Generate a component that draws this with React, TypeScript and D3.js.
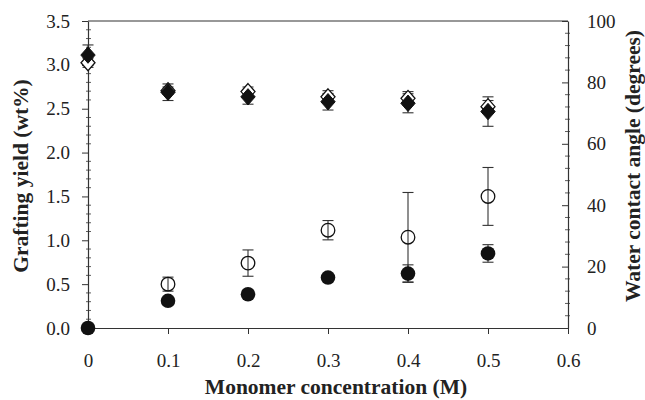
import React, { useEffect, useRef } from "react";
import * as d3 from "d3";

// concentrations (M)
const conc = [0, 0.1, 0.2, 0.3, 0.4, 0.5];
// grafting yield (wt%) — left axis
const yieldFilled = [0, 0.31, 0.385, 0.575, 0.62, 0.85];
const yieldFilledErr = [0, 0.02, 0.02, 0.02, 0.1, 0.1];
const yieldOpen = [null, 0.5, 0.74, 1.115, 1.035, 1.5];
const yieldOpenErr = [0, 0.08, 0.15, 0.11, 0.51, 0.33];
// water contact angle (degrees) — right axis
const angleFilled = [88.9, 76.8, 75.3, 73.7, 73.2, 70.5];
const angleFilledErr = [3.3, 2.7, 2.4, 2.7, 3.1, 4.8];
const angleOpen = [86.4, 77.3, 77.0, 75.3, 74.8, 72.1];
const angleOpenErr = [1.5, 1.2, 1.5, 2.0, 2.2, 2.0];

const xTicks = [0, 0.1, 0.2, 0.3, 0.4, 0.5, 0.6];
const yLeftTicks = [0, 0.5, 1.0, 1.5, 2.0, 2.5, 3.0, 3.5];
const yRightTicks = [0, 20, 40, 60, 80, 100];

const W = 645, H = 400;
const L = 88, R = 568, T = 21, B = 328;
const AX = "#333";
const FONT = "Liberation Serif";

export default function App() {
  const gx = useRef<SVGGElement>(null);
  const gl = useRef<SVGGElement>(null);
  const gr = useRef<SVGGElement>(null);

  const x = d3.scaleLinear().domain([0, 0.6]).range([L, R]);
  const yL = d3.scaleLinear().domain([0, 3.5]).range([B, T]);
  const yR = d3.scaleLinear().domain([0, 100]).range([B, T]);

  useEffect(() => {
    const style = (g: any) => {
      g.attr("font-family", null).attr("font-size", null);
      g.selectAll("path.domain").attr("stroke", AX).attr("stroke-width", 1.2);
      g.selectAll(".tick line").attr("stroke", AX).attr("stroke-width", 1);
      g.selectAll("text").attr("font-size", 19).attr("fill", "#222");
    };
    const sx = d3.select(gx.current!);
    sx.call(
      d3.axisBottom(x).tickValues(xTicks).tickSizeInner(6).tickSizeOuter(0).tickPadding(20)
        .tickFormat((d: any) => (d === 0 ? "0" : d3.format(".1f")(d)))
    );
    style(sx);
    const sl = d3.select(gl.current!);
    sl.call(d3.axisLeft(yL).tickValues(yLeftTicks).tickSizeInner(6).tickSizeOuter(0).tickPadding(12)
      .tickFormat(d3.format(".1f") as any));
    style(sl);
    const sr = d3.select(gr.current!);
    sr.call(d3.axisRight(yR).tickValues(yRightTicks).tickSizeInner(-6).tickSizeOuter(0).tickPadding(19));
    style(sr);
  }, []);

  const minorL = d3.range(0, 3.5001, 0.1).filter((v) => Math.abs(v * 2 - Math.round(v * 2)) > 1e-6);
  const minorR = d3.range(0, 100.001, 4).filter((v) => v % 20 !== 0);

  const diamond = (cx: number, cy: number, hw: number, hh: number) =>
    `M${cx},${cy - hh}L${cx + hw},${cy}L${cx},${cy + hh}L${cx - hw},${cy}Z`;

  const errBar = (cx: number, y0: number, y1: number, key: string) => (
    <g key={key} stroke="#333" strokeWidth={1.1}>
      <line x1={cx} x2={cx} y1={y0} y2={y1} />
      <line x1={cx - 5.5} x2={cx + 5.5} y1={y0} y2={y0} />
      <line x1={cx - 5.5} x2={cx + 5.5} y1={y1} y2={y1} />
    </g>
  );

  return (
    <svg width={W} height={H} style={{ position: "absolute", left: 0, top: 0, background: "#fff", fontFamily: FONT }}>
      <rect width={W} height={H} fill="#fff" />
      {/* top border */}
      <line x1={L} x2={R} y1={T} y2={T} stroke={AX} strokeWidth={1.2} />
      <g ref={gx} transform={`translate(0,${B})`} />
      <g ref={gl} transform={`translate(${L},0)`} />
      <g ref={gr} transform={`translate(${R},0)`} />
      {/* minor ticks */}
      {minorL.map((v, i) => (
        <line key={"ml" + i} x1={L - 2} x2={L + 3} y1={yL(v)} y2={yL(v)} stroke={AX} strokeWidth={0.8} />
      ))}
      {minorR.map((v, i) => (
        <line key={"mr" + i} x1={R - 3} x2={R + 2} y1={yR(v)} y2={yR(v)} stroke={AX} strokeWidth={0.8} />
      ))}

      {/* error bars */}
      {conc.map((c, i) => errBar(x(c), yR(angleFilled[i] + angleFilledErr[i]), yR(angleFilled[i] - angleFilledErr[i]), "ef" + i))}
      {conc.map((c, i) => errBar(x(c), yR(angleOpen[i] + angleOpenErr[i]), yR(angleOpen[i] - angleOpenErr[i]), "eo" + i))}
      {conc.map((c, i) =>
        yieldOpen[i] == null ? null : errBar(x(c), yL(yieldOpen[i]! + yieldOpenErr[i]), yL(yieldOpen[i]! - yieldOpenErr[i]), "yo" + i)
      )}
      {conc.map((c, i) =>
        yieldFilledErr[i] > 0 ? errBar(x(c), yL(yieldFilled[i] + yieldFilledErr[i]), yL(yieldFilled[i] - yieldFilledErr[i]), "yf" + i) : null
      )}

      {/* open diamonds */}
      {conc.map((c, i) => (
        <path key={"od" + i} d={diamond(x(c), yR(angleOpen[i]), 7, 8)} fill="#fff" stroke="#111" strokeWidth={1.3} />
      ))}
      {/* filled diamonds */}
      {conc.map((c, i) => (
        <path key={"fd" + i} d={diamond(x(c), yR(angleFilled[i]), 7.2, 8.2)} fill="#111" stroke="#111" strokeWidth={1} />
      ))}
      {/* open circles */}
      {conc.map((c, i) =>
        yieldOpen[i] == null ? null : (
          <circle key={"oc" + i} cx={x(c)} cy={yL(yieldOpen[i]!)} r={6.8} fill="none" stroke="#111" strokeWidth={1.3} />
        )
      )}
      {/* filled circles */}
      {conc.map((c, i) => (
        <circle key={"fc" + i} cx={x(c)} cy={yL(yieldFilled[i])} r={7.3} fill="#111" />
      ))}

      {/* titles */}
      <text x={336} y={394} textAnchor="middle" fontWeight="bold" fontSize={21.5} fill="#222">
        Monomer concentration (M)
      </text>
      <text transform={`translate(28,176) rotate(-90)`} textAnchor="middle" fontWeight="bold" fontSize={21.5} fill="#222">
        Grafting yield (wt%)
      </text>
      <text transform={`translate(640,166) rotate(-90)`} textAnchor="middle" fontWeight="bold" fontSize={21.5} fill="#222">
        Water contact angle (degrees)
      </text>
    </svg>
  );
}
